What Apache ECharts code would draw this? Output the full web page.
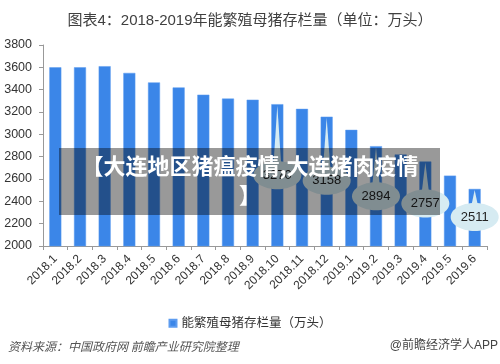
<!DOCTYPE html>
<html>
<head>
<meta charset="utf-8">
<script src="https://cdn.jsdelivr.net/npm/echarts@6/dist/echarts.min.js"></script>
<style>html,body{margin:0;padding:0;background:#fff}#c{width:500px;height:364px}</style>
</head>
<body>
<div id="c"></div>
<script>
const categories = ['2018.1','2018.2','2018.3','2018.4','2018.5','2018.6','2018.7','2018.8','2018.9','2018.10','2018.11','2018.12','2019.1','2019.2','2019.3','2019.4','2019.5','2019.6'];
const sowStock = [3600, 3600, 3610, 3550, 3465, 3420, 3355, 3320, 3310, 3270, 3228, 3158, 3040, 2894, 2820, 2757, 2630, 2511];
const calloutIndex = [9, 11, 13, 15, 17];
const yTicks = { min: 2000, max: 3800, interval: 200 };
const titleText = '图表4：2018-2019年能繁殖母猪存栏量（单位：万头）';
const seriesName = '能繁殖母猪存栏量（万头）';
const bannerLine1 = '【大连地区猪瘟疫情,大连猪肉疫情';
const bannerLine2 = '】';
const sourceText = '资料来源：中国政府网 前瞻产业研究院整理';
const brandText = '@前瞻经济学人APP';

// styling: pixel drop of each callout bubble below its bar top
const calloutDrop = [71, 64, 50, 42, 28];

const FONT = '"Liberation Sans", "Noto Sans CJK SC", sans-serif';
const chart = echarts.init(document.getElementById('c'), null, { renderer: 'canvas' });

const calloutData = calloutIndex.map((i, k) => [i, sowStock[i], k]);

chart.setOption({
  backgroundColor: '#fff',
  animation: false,
  title: {
    text: titleText, left: 'center', top: 8,
    textStyle: { fontFamily: FONT, fontSize: 15, fontWeight: 'normal', color: '#404040' }
  },
  legend: {
    data: [seriesName], top: 312, left: 'center', icon: 'rect', itemWidth: 7, itemHeight: 7, itemGap: 4,
    textStyle: { fontFamily: FONT, fontSize: 12.5, color: '#333' }
  },
  grid: { left: 43, right: 13, top: 45, bottom: 118 },
  xAxis: {
    type: 'category', data: categories,
    axisLine: { lineStyle: { color: '#999' } },
    axisTick: { show: true, alignWithLabel: false, lineStyle: { color: '#999' }, length: 4 },
    axisLabel: { rotate: 45, fontFamily: FONT, fontSize: 12, color: '#333', interval: 0, margin: 11 }
  },
  yAxis: {
    type: 'value', min: yTicks.min, max: yTicks.max, interval: yTicks.interval,
    splitLine: { show: false },
    axisLine: { show: true, lineStyle: { color: '#999' } },
    axisTick: { show: true, length: 4, lineStyle: { color: '#999' } },
    axisLabel: { fontFamily: FONT, fontSize: 12.5, color: '#333', margin: 11, formatter: function (v) { return String(v); } }
  },
  series: [
    {
      name: seriesName, type: 'bar', data: sowStock, barWidth: 12,
      itemStyle: { color: '#3b86e8', borderColor: '#5d9cf0', borderWidth: 0.5 }
    },
    {
      type: 'custom', data: calloutData, z: 5, silent: true,
      renderItem: function (params, api) {
        const top = api.coord([api.value(0), api.value(1)]);
        const drop = calloutDrop[api.value(2)];
        const cx = top[0], cy = top[1] + drop;
        const fill = '#d6ebf2';
        return {
          type: 'group',
          children: [
            { type: 'polygon', shape: { points: [[cx, top[1] + 1], [cx - 4, cy - 8], [cx + 4, cy - 8]] }, style: { fill: fill } },
            { type: 'ellipse', shape: { cx: cx, cy: cy, rx: 24, ry: 14 }, style: { fill: fill } },
            { type: 'text', style: { text: String(api.value(1)), x: cx, y: cy, align: 'center', verticalAlign: 'middle', font: '13px ' + FONT, fill: '#222' } }
          ]
        };
      }
    }
  ],
  graphic: [
    { type: 'rect', left: 59, top: 148, z: 100, shape: { width: 381, height: 67 }, style: { fill: 'rgba(0,0,0,0.4)' } },
    { type: 'text', z: 101, left: 'center', top: 155, style: { text: bannerLine1, font: 'bold 22px "Noto Sans CJK SC", sans-serif', fill: '#fff' } },
    { type: 'text', z: 101, left: 'center', top: 184, style: { text: bannerLine2, font: 'bold 22px "Noto Sans CJK SC", sans-serif', fill: '#fff' } },
    { type: 'text', left: 8, top: 340, style: { text: sourceText, font: 'italic 12px "Noto Sans CJK SC", sans-serif', fill: '#555' } },
    { type: 'text', right: 2, top: 340, style: { text: brandText, font: '12px ' + FONT, fill: '#444' } }
  ]
});
</script>
</body>
</html>
